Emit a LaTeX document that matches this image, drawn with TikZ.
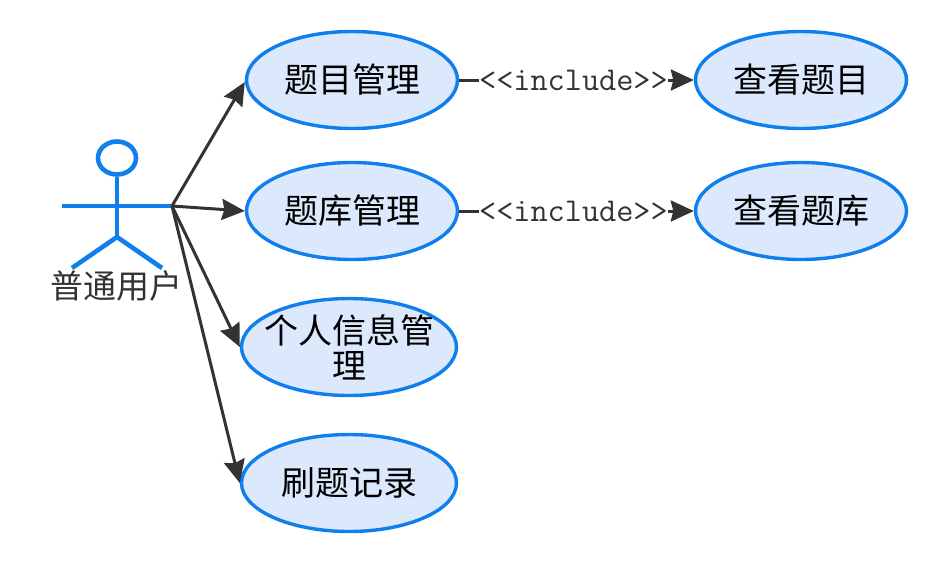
\documentclass[tikz,border=0pt]{standalone}
\usepackage{fontspec}
\newfontfamily\cjk{Noto Sans CJK SC}
\usetikzlibrary{shapes,arrows.meta,positioning}

\begin{document}
\begin{tikzpicture}[
    x=1pt, y=-1pt,
    casefont/.style={
        font=\fontsize{34}{35}\selectfont\cjk,
        text=black
    },
    usecase/.style={
        ellipse, draw=actorblue, fill=caseblue,
        line width=3.4pt,
        inner sep=0pt,
        minimum width=211pt, minimum height=97pt,
        align=center,
        casefont
    },
    widecase/.style={usecase, minimum width=215pt},
    caselabel/.style={casefont, align=center, inner sep=0pt},
    actorline/.style={draw=actorblue, line width=4.6pt},
    assoc/.style={draw=linegray, line width=3pt, -{Stealth[length=23pt,width=21pt,inset=2.5pt]}},
    inclabel/.style={
        fill=white, inner sep=0pt, text=linegray, pos=0.487,
        font=\fontsize{33.3}{36}\selectfont\ttfamily
    }
]
\definecolor{actorblue}{HTML}{0F7FEE}
\definecolor{caseblue}{HTML}{DCE8FC}
\definecolor{linegray}{HTML}{333333}
\useasboundingbox (0,0) rectangle (945,563);

\node[usecase] (manage) at (352,80) {题目管理};
\node[usecase] (bank) at (352,211) {题库管理};
\node[widecase, label={[caselabel]center:个人信息管\\理}] (info) at (349,347) {};
\node[widecase] (record) at (349,483) {刷题记录};
\node[usecase] (viewq) at (801,80) {查看题目};
\node[usecase] (viewb) at (801,211) {查看题库};

% actor
\node[draw=actorblue, line width=4.6pt, ellipse, minimum width=38pt, minimum height=33pt, inner sep=0pt] (head) at (117,158) {};
\coordinate (armleft) at (62,206);
\coordinate (armright) at (172,206);
\coordinate (hip) at (117,237);
\coordinate (footleft) at (72,268);
\coordinate (footright) at (162,268);
\draw[actorline] (head) -- (hip);
\draw[actorline] (armleft) -- (armright);
\draw[actorline] (footleft) -- (hip) -- (footright);
\node[font=\fontsize{33}{36}\selectfont\cjk, text=linegray, inner sep=0pt] (actorname) at (116,286) {普通用户};

\draw[assoc] (armright) -- ([yshift=-2pt]manage.west);
\draw[assoc] (armright) -- (bank.west);
\draw[assoc] (armright) -- (info.west);
\draw[assoc] (armright) -- (record.west);

\draw[assoc] (manage) -- node[inclabel] {<{}<include>{}>} (viewq);
\draw[assoc] (bank) -- node[inclabel] {<{}<include>{}>} (viewb);
\end{tikzpicture}
\end{document}
